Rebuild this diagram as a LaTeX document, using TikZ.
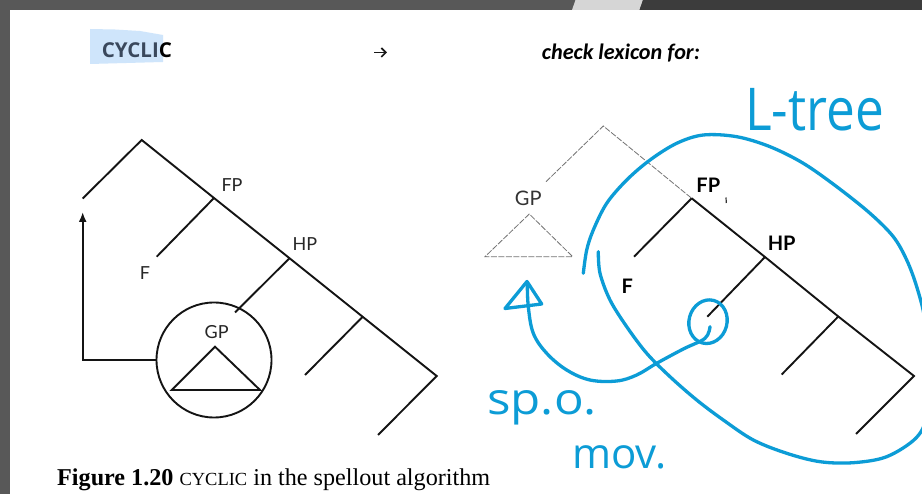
\documentclass[tikz,border=0pt]{standalone}
\usepackage{fontspec}
\usepackage{graphicx}
\usetikzlibrary{arrows.meta,shapes.geometric}
\setmainfont{Liberation Serif}
\newfontfamily\labelfont{Lato}
\newfontfamily\hdfont{Open Sans}
\newfontfamily\calfont{Carlito}
\newfontfamily\handfont{Open Sans}
\definecolor{penblue}{RGB}{12,156,214}
\definecolor{barA}{RGB}{88,88,88}
\definecolor{barB}{RGB}{214,214,214}
\definecolor{barC}{RGB}{60,60,60}
\definecolor{hilite}{RGB}{207,229,251}
\definecolor{seltext}{RGB}{58,72,92}
\begin{document}
\begin{tikzpicture}[x=1pt,y=-1pt,
  tree/.style={line width=1.9pt, draw=black!92},
  ghost/.style={line width=0.8pt, draw=black!55, dash pattern=on 6pt off 1.5pt},
  pen/.style={draw=penblue, line width=3.3pt, line cap=round, line join=round},
  lbl/.style={inner sep=0pt, text=black!85, font=\labelfont\fontsize{18}{18}\selectfont},
  blbl/.style={inner sep=0pt, text=black, font=\labelfont\bfseries\fontsize{20}{20}\selectfont},
  glbl/.style={inner sep=0pt, text=black!80, font=\labelfont\fontsize{20}{20}\selectfont},
  hand/.style={inner sep=0pt, text=penblue}]
\useasboundingbox (0,0) rectangle (922,494);
\fill[white] (0,0) rectangle (922,494);
% screen frame
\fill[barA] (0,0) rectangle (922,10);
\fill[barB] (572,10) -- (575.5,0) -- (643,0) -- (639.5,10) -- cycle;
\fill[barC] (639.5,10) -- (643,0) -- (922,0) -- (922,10) -- cycle;
\fill[barA] (0,0) rectangle (10,494);
% heading
\fill[hilite] (90,29) -- (115,29.5) -- (140,31) -- (163,35) -- (163,62) -- (90,64) -- cycle;
\node[inner sep=0pt, anchor=base west] (cyc) at (101.7,58) {\resizebox{70pt}{!}{\hdfont\bfseries\fontsize{16}{16}\selectfont\textcolor{seltext}{CYCLI}\textcolor{black}{C}}};
\coordinate (arrA) at (374,52.5);
\coordinate (arrB) at (387,52.5);
\draw[line width=1.7pt, black!90, -{Straight Barb[length=4.5pt,width=9pt,line width=1.7pt]}] (arrA) -- (arrB);
\node[inner sep=0pt, anchor=base west] (chk) at (541.7,59.5) {\resizebox{158pt}{!}{\calfont\bfseries\itshape\fontsize{17}{17}\selectfont check lexicon for:}};
% ---------------- left tree
\coordinate (Ltop) at (141.7,140);
\coordinate (Lleft) at (82.7,198.5);
\coordinate (LFP) at (214,198);
\coordinate (LFend) at (156.7,256.7);
\coordinate (LHP) at (289.5,258.2);
\coordinate (LHPend) at (235,312.5);
\coordinate (LX) at (362.7,316.8);
\coordinate (LXend) at (305,375);
\coordinate (Lbot) at (436.7,376);
\coordinate (Lbotend) at (378,435);
\node[circle, draw=black!92, line width=1.9pt, minimum size=115pt, inner sep=0pt] (Lcirc) at (214,360) {};
\draw[tree] (Lleft) -- (Ltop) -- (LFP) -- (LHP) -- (LX) -- (Lbot) -- (Lbotend);
\draw[tree] (LFP) -- (LFend);
\draw[tree] (LHP) -- (LHPend);
\draw[tree] (LX) -- (LXend);
\node[lbl] (LFPl) at (232,185) {FP};
\node[lbl] (LHPl) at (305,244) {HP};
\node[lbl] (LFl) at (145,273.3) {F};
\node[lbl] (LGPl) at (216.7,331.7) {GP};
\coordinate (LTa) at (215,346.7);
\coordinate (LTb) at (171.7,390);
\coordinate (LTc) at (260,390);
\draw[tree] (LTa) -- (LTb) -- (LTc) -- cycle;
\coordinate (Lcorner) at (82.7,360);
\coordinate (Ltip) at (82.7,212);
\draw[tree, -{Latex[length=10pt,width=8pt]}] (Lcirc.west) -- (Lcorner) -- (Ltip);
% ---------------- right tree
\coordinate (Rtop) at (603.3,126);
\coordinate (Rleft) at (546,181.7);
\coordinate (RFP) at (691.7,198.3);
\coordinate (RFend) at (634,256.7);
\coordinate (RHP) at (765,257);
\coordinate (RHPend) at (707.3,316.7);
\coordinate (RX) at (838.3,316.5);
\coordinate (RXend) at (781.7,374.5);
\coordinate (Rbot) at (914,376);
\coordinate (Rbotend) at (856,434);
\draw[ghost] (Rleft) -- (Rtop) -- (RFP);
\draw[tree] (RFP) -- (RHP) -- (RX) -- (Rbot) -- (Rbotend);
\draw[tree] (RFP) -- (RFend);
\draw[tree] (RHP) -- (RHPend);
\draw[tree] (RX) -- (RXend);
\node[blbl] (RFPl) at (708.3,185) {FP};
\node[blbl] (RHPl) at (781.7,243.3) {HP};
\node[blbl] (RFl) at (627.3,286.7) {F};
\node[glbl] (RGPl) at (528.3,198.3) {GP};
\coordinate (tickA) at (726,197.5);
\coordinate (tickB) at (726.3,203);
\draw[line width=1.2pt, black!80] (tickA) -- (tickB);
\coordinate (RTa) at (529.3,214);
\coordinate (RTb) at (485,256.7);
\coordinate (RTc) at (572.7,256.7);
\draw[ghost] (RTa) -- (RTb) -- (RTc) -- cycle;
% ---------------- blue annotations
\begin{scope}
\clip (0,0) rectangle (922,494);
\draw[pen] plot[smooth, tension=0.55] coordinates {(583.3,273.3) (586.7,250) (593.3,230) (606.7,203.3) (626.7,180) (650,160) (676.7,143.3) (703.3,135) (736.7,136.7) (770,146.7) (803.3,163.3) (836.7,186.7) (870,213.3) (893.3,236.7) (906.7,260) (916.7,286.7) (925,320) (930,370) (927,415) (916,438) (886.7,456.7) (853.3,462.7) (820,461.7) (786.7,453.3) (753.3,440) (723.3,420) (696.7,400) (670,376.7) (646.7,353.3) (626.7,326.7) (610,300) (600,273.3) (598.3,251.7)};
\end{scope}
\node[pen, ellipse, draw, minimum width=38pt, minimum height=44pt, inner sep=0pt, rotate=-15] (circ) at (708,321.7) {};
\draw[pen] plot[smooth, tension=0.6] coordinates {(710,326.7) (705,338.3) (683.3,349) (656.7,363.3) (636.7,375) (616.7,381) (590,380) (566.7,370) (546.7,353.3) (533.3,333.3) (528.3,306.7) (527.3,283)};
\coordinate (Ha) at (527,281.5);
\coordinate (Hb) at (505,308.5);
\coordinate (Hc) at (541.7,304);
\draw[pen] (Ha) -- (Hb) -- (Hc) -- cycle;
\node[hand, anchor=base west] (ltree) at (745,131) {\scalebox{0.87}[1]{\handfont\fontsize{59}{59}\selectfont L-tree}};
\node[hand, anchor=base west] (spo) at (487,415) {\scalebox{1.12}[1]{\handfont\fontsize{44}{44}\selectfont sp.o.}};
\node[hand, anchor=base west] (mov) at (572,468) {\handfont\fontsize{42}{42}\selectfont mov.};
% caption
\node[inner sep=0pt, anchor=base west] (cap) at (57,486) {\resizebox{433pt}{!}{\fontsize{17}{17}\selectfont\textbf{Figure 1.20} {\fontsize{13}{13}\selectfont CYCLIC} in the spellout algorithm}};
\end{tikzpicture}
\end{document}
